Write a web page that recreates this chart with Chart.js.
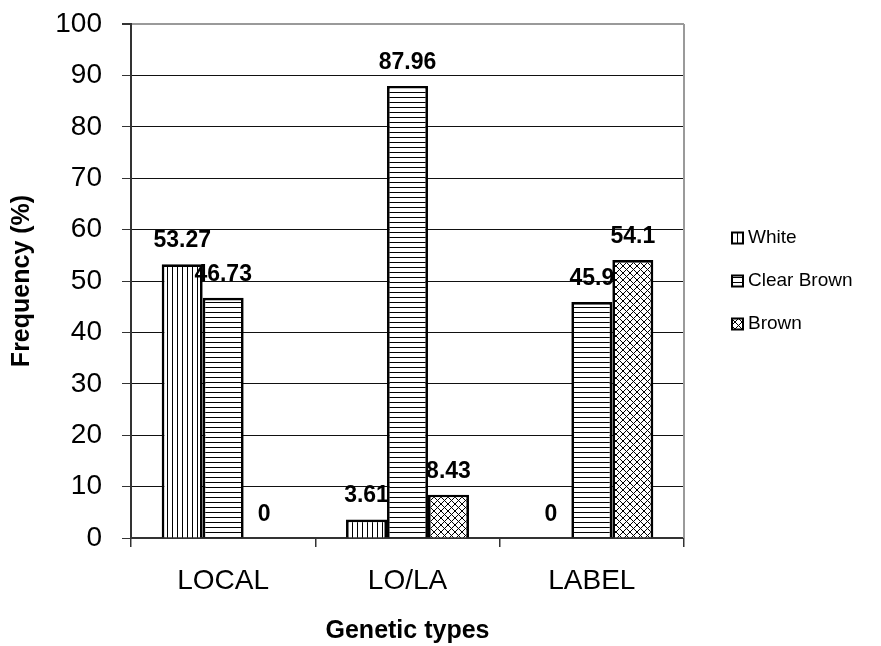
<!DOCTYPE html>
<html><head><meta charset="utf-8">
<script src="https://cdn.jsdelivr.net/npm/chart.js@4.4.0/dist/chart.umd.min.js"></script>
<style>html,body{margin:0;padding:0;background:#fff;} #wrap{width:881px;height:646px;}</style>
</head><body><div id="wrap"><canvas id="c" width="881" height="646"></canvas></div>
<script>
const categories = ['LOCAL', 'LO/LA', 'LABEL'];
const seriesNames = ['White', 'Clear Brown', 'Brown'];
const whiteValues = [53.27, 3.61, 0];
const clearBrownValues = [46.73, 87.96, 45.9];
const brownValues = [0, 8.43, 54.1];
const yTickValues = [0, 10, 20, 30, 40, 50, 60, 70, 80, 90, 100];
const xTitle = 'Genetic types';
const yTitle = 'Frequency (%)';

const FONT = "'Liberation Sans', Arial, Helvetica, sans-serif";
const canvas = document.getElementById('c');
const mainCtx = canvas.getContext('2d');

function makePattern(kind) {
  const s = kind === 'cross' ? 7 : 5;
  const c = document.createElement('canvas');
  c.width = s; c.height = s;
  const g = c.getContext('2d');
  g.fillStyle = '#fff'; g.fillRect(0, 0, s, s);
  g.fillStyle = '#000'; g.strokeStyle = '#000';
  if (kind === 'v') g.fillRect(2, 0, 1, s);
  else if (kind === 'h') g.fillRect(0, 2, s, 1);
  else {
    g.lineWidth = 1;
    g.beginPath();
    for (const o of [-s, 0, s]) {
      g.moveTo(o, 0); g.lineTo(o + s, s);
      g.moveTo(o + s, 0); g.lineTo(o, s);
    }
    g.stroke();
  }
  return mainCtx.createPattern(c, 'repeat');
}
const patterns = [makePattern('v'), makePattern('h'), makePattern('cross')];
const seriesValues = [whiteValues, clearBrownValues, brownValues];

const plotBorder = {
  id: 'plotBorder',
  beforeDatasetsDraw(chart) {
    const {ctx, chartArea: a} = chart;
    ctx.save();
    ctx.strokeStyle = '#9a9a9a';
    ctx.lineWidth = 2;
    ctx.beginPath();
    ctx.moveTo(a.right, a.top);
    ctx.lineTo(a.right, a.bottom);
    ctx.stroke();
    ctx.restore();
  }
};

const dataLabels = {
  id: 'dataLabels',
  afterDatasetsDraw(chart) {
    const ctx = chart.ctx;
    ctx.save();
    ctx.font = 'bold 23px ' + FONT;
    ctx.fillStyle = '#000';
    ctx.textAlign = 'center';
    ctx.textBaseline = 'alphabetic';
    chart.data.datasets.forEach((ds, i) => {
      const meta = chart.getDatasetMeta(i);
      meta.data.forEach((el, j) => {
        ctx.fillText(String(ds.data[j]), el.x, el.y - 17);
      });
    });
    ctx.restore();
  }
};

const sideLegend = {
  id: 'sideLegend',
  afterDraw(chart) {
    const {ctx, chartArea: a} = chart;
    const cy = (a.top + a.bottom) / 2;
    const gap = 43;
    const bx = a.right + 48;
    const n = chart.data.datasets.length;
    ctx.save();
    ctx.font = '19px ' + FONT;
    ctx.textBaseline = 'middle';
    ctx.textAlign = 'left';
    chart.data.datasets.forEach((ds, i) => {
      const y = cy + (i - (n - 1) / 2) * gap;
      ctx.fillStyle = ds.backgroundColor;
      ctx.fillRect(bx, y - 5.5, 11, 11);
      ctx.strokeStyle = '#000';
      ctx.lineWidth = 2;
      ctx.strokeRect(bx, y - 5.5, 11, 11);
      ctx.fillStyle = '#000';
      ctx.fillText(ds.label, bx + 16, y);
    });
    ctx.restore();
  }
};

new Chart(canvas, {
  type: 'bar',
  data: {
    labels: categories,
    datasets: seriesNames.map((name, i) => ({
      label: name,
      data: seriesValues[i],
      backgroundColor: patterns[i],
      borderColor: '#000',
      borderWidth: 2.7,
      categoryPercentage: 0.667,
      barPercentage: 1
    }))
  },
  options: {
    responsive: false,
    animation: false,
    devicePixelRatio: 1,
    layout: {padding: {top: 24, right: 197, left: 0, bottom: 0}},
    plugins: {legend: {display: false}, tooltip: {enabled: false}, title: {display: false}},
    scales: {
      x: {
        type: 'category',
        offset: true,
        grid: {offset: true, drawOnChartArea: false, drawTicks: true, tickLength: 9, tickColor: '#333', lineWidth: 1.5},
        border: {display: true, color: '#333', width: 2},
        ticks: {font: {family: FONT, size: 28}, color: '#000', padding: 17, maxRotation: 0, autoSkip: false},
        title: {display: true, text: xTitle, color: '#000', font: {family: FONT, size: 25, weight: 'bold'}, padding: {top: 0, bottom: 0}},
        afterFit(s) { s.height = 108; s.paddingLeft = 0; s.paddingRight = 0; }
      },
      y: {
        min: yTickValues[0],
        max: yTickValues[yTickValues.length - 1],
        afterBuildTicks(s) { s.ticks = yTickValues.map(v => ({value: v})); },
        ticks: {font: {family: FONT, size: 28}, color: '#000', padding: 20},
        grid: {
          color: c => (c.tick && c.tick.value === 100) ? '#9a9a9a' : '#111',
          lineWidth: c => (c.tick && c.tick.value === 100) ? 2 : 1,
          tickLength: 9, tickColor: '#333'
        },
        border: {display: true, color: '#333', width: 2},
        title: {display: true, text: yTitle, color: '#000', font: {family: FONT, size: 25, weight: 'bold'}, padding: {top: 7, bottom: 0}},
        afterFit(s) { s.width = 131; s.paddingTop = 0; s.paddingBottom = 0; }
      }
    }
  },
  plugins: [plotBorder, dataLabels, sideLegend]
});
</script></body></html>
